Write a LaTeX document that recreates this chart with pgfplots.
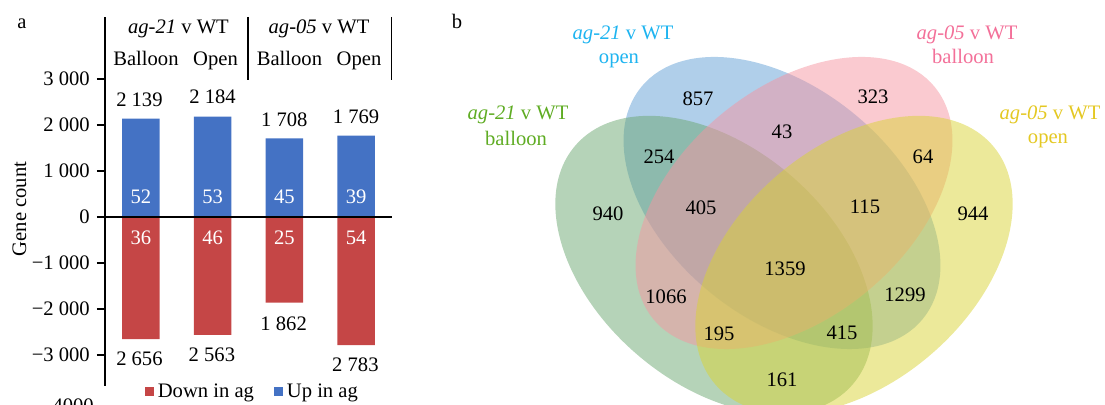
\documentclass[border=0pt]{standalone}
\usepackage{fontspec}
\setmainfont{Liberation Serif}
\usepackage{pgfplots}
\pgfplotsset{compat=1.18}
\definecolor{barblue}{RGB}{68,114,196}
\definecolor{barred}{RGB}{197,70,70}
\definecolor{vblue}{RGB}{97,159,213}
\definecolor{vgreen}{RGB}{107,167,113}
\definecolor{vpink}{RGB}{245,149,161}
\definecolor{vyellow}{RGB}{217,211,53}
\definecolor{lblue}{RGB}{30,180,240}
\definecolor{lgreen}{RGB}{95,172,35}
\definecolor{lpink}{RGB}{243,112,153}
\definecolor{lyellow}{RGB}{228,200,35}
\begin{document}
\fontsize{10.3}{12.4}\selectfont
\begin{tikzpicture}
% ---------------- panel a ----------------
\begin{axis}[
  at={(52.5pt,9.5pt)}, anchor=south west,
  scale only axis, width=143.5pt, height=184.5pt,
  xmin=-0.5, xmax=3.5, ymin=-3674, ymax=4348,
  axis x line=none, axis y line=left,
  axis line style={-, black, line width=0.6pt},
  ytick={-3000,-2000,-1000,0,1000,2000,3000},
  yticklabels={−3 000,−2 000,−1 000,0,1 000,2 000,3 000},
  tick align=outside, major tick length=4pt,
  ytick style={black, line width=0.6pt},
  clip=false,
  ybar, bar width=18.75pt,
  legend columns=2,
  legend style={draw=none, fill=none, at={(0.517,-0.016)}, anchor=center,
    inner sep=0pt, /tikz/every even column/.append style={column sep=8pt}},
]
\addplot[ybar, bar shift=0pt, fill=barred, draw=none,
  legend image code/.code={\fill[barred] (0pt,-2.25pt) rectangle (4.5pt,2.25pt);}]
  coordinates {(0,-2656) (1,-2563) (2,-1862) (3,-2783)};
\addlegendentry{Down in ag}
\addplot[ybar, bar shift=0pt, fill=barblue, draw=none,
  legend image code/.code={\fill[barblue] (0pt,-2.25pt) rectangle (4.5pt,2.25pt);}]
  coordinates {(0,2139) (1,2184) (2,1708) (3,1769)};
\addlegendentry{Up in ag}
\draw[black, line width=0.7pt] (axis cs:-0.5,0) -- (axis cs:3.5,0);
% value labels
\node at (axis cs:-0.02,2543) {2 139};
\node at (axis cs:1,2609) {2 184};
\node at (axis cs:2,2109) {1 708};
\node at (axis cs:3,2174) {1 769};
\node at (axis cs:-0.02,-3083) {2 656};
\node at (axis cs:0.99,-2985) {2 563};
\node at (axis cs:1.99,-2311) {1 862};
\node at (axis cs:2.99,-3202) {2 783};
\node[text=white] at (axis cs:0,435) {52};
\node[text=white] at (axis cs:1,435) {53};
\node[text=white] at (axis cs:2,435) {45};
\node[text=white] at (axis cs:3,435) {39};
\node[text=white] at (axis cs:0,-457) {36};
\node[text=white] at (axis cs:1,-457) {46};
\node[text=white] at (axis cs:2,-457) {25};
\node[text=white] at (axis cs:3,-457) {54};
% header
\node[anchor=base] at (axis cs:0.524,3993) {\textit{ag-21} v WT};
\node[anchor=base] at (axis cs:2.483,3993) {\textit{ag-05} v WT};
\node[anchor=base] at (axis cs:0.071,3304) {Balloon};
\node[anchor=base] at (axis cs:1.040,3304) {Open};
\node[anchor=base] at (axis cs:2.071,3304) {Balloon};
\node[anchor=base] at (axis cs:3.040,3304) {Open};
\draw[black, line width=0.6pt] (axis cs:1.493,4348) -- (axis cs:1.493,2978);
\draw[black, line width=0.6pt] (axis cs:3.493,4348) -- (axis cs:3.493,2978);
\node[anchor=east] at (axis cs:-0.5,-4109) [xshift=-2pt] {-4000};
\node[rotate=90] at (axis cs:-1.692,174) {Gene count};
\end{axis}
% ---------------- panel b ----------------
\begin{axis}[
  at={(220pt,0pt)}, anchor=south west,
  scale only axis, width=332.5pt, height=202.5pt,
  xmin=440, xmax=1105, ymin=0, ymax=405,
  hide axis, clip=true,
]
\fill[vblue, fill opacity=0.5, rotate around={-39.6:(axis cs:782,202)}]
  (axis cs:782,202) ellipse [x radius=91.2pt, y radius=57.35pt];
\fill[vgreen, fill opacity=0.5, rotate around={-40.7:(axis cs:714,140)}]
  (axis cs:714,140) ellipse [x radius=91.5pt, y radius=59pt];
\fill[vpink, fill opacity=0.5, rotate around={39.6:(axis cs:794,202)}]
  (axis cs:794,202) ellipse [x radius=91.2pt, y radius=57.35pt];
\fill[vyellow, fill opacity=0.5, rotate around={40.7:(axis cs:854,140)}]
  (axis cs:854,140) ellipse [x radius=91.5pt, y radius=59pt];
% counts
\node at (axis cs:608,191) {940};
\node at (axis cs:698,306) {857};
\node at (axis cs:873,308) {323};
\node at (axis cs:973,191) {944};
\node at (axis cs:659,248) {254};
\node at (axis cs:782,273) {43};
\node at (axis cs:923,248) {64};
\node at (axis cs:701,197) {405};
\node at (axis cs:865,198) {115};
\node at (axis cs:785,136) {1359};
\node at (axis cs:666,108) {1066};
\node at (axis cs:905,110) {1299};
\node at (axis cs:719,71) {195};
\node at (axis cs:842,72) {415};
\node at (axis cs:782,25) {161};
% set labels
\node[anchor=base, text=lgreen] at (axis cs:518,285.5) {\textit{ag-21} v WT};
\node[anchor=base, text=lgreen] at (axis cs:516,259) {balloon};
\node[anchor=base, text=lblue] at (axis cs:623,365.7) {\textit{ag-21} v WT};
\node[anchor=base, text=lblue] at (axis cs:619,341) {open};
\node[anchor=base, text=lpink] at (axis cs:967,365.7) {\textit{ag-05} v WT};
\node[anchor=base, text=lpink] at (axis cs:963,341) {balloon};
\node[anchor=base, text=lyellow] at (axis cs:1050,285.7) {\textit{ag-05} v WT};
\node[anchor=base, text=lyellow] at (axis cs:1048,261) {open};
\end{axis}
\node[anchor=base] at (11pt,188pt) {a};
\node[anchor=base] at (228.5pt,188pt) {b};
\pgfresetboundingbox
\path[use as bounding box] (0pt,0pt) rectangle (552.5pt,202.5pt);
\end{tikzpicture}
\end{document}
